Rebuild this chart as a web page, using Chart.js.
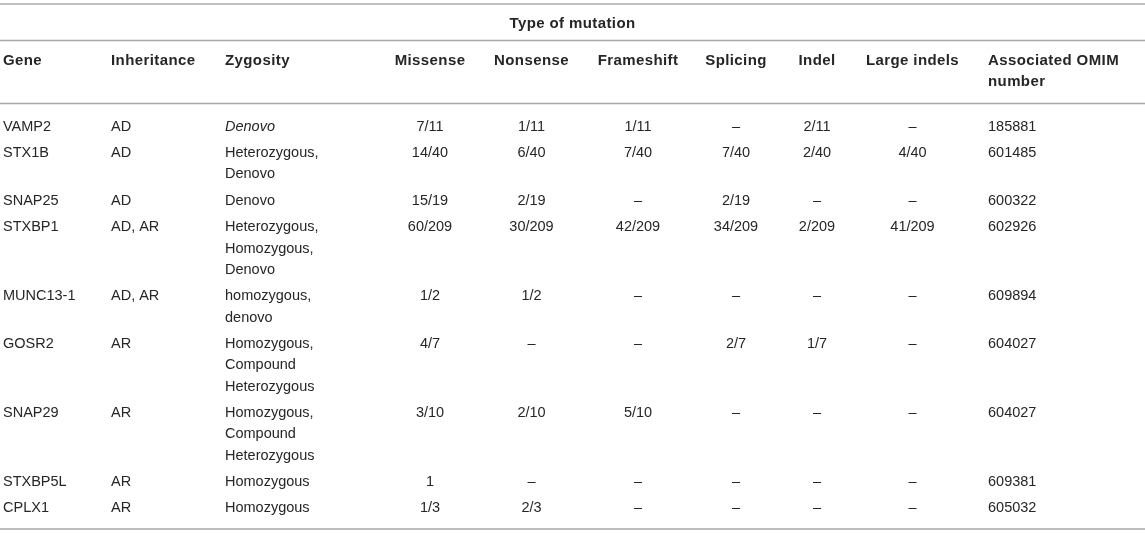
<!DOCTYPE html>
<html>
<head>
<meta charset="utf-8">
<script src="https://cdn.jsdelivr.net/npm/chart.js@4"></script>
<style>
html,body{margin:0;padding:0;background:#fff;}
#wrap{width:1145px;height:534px;}
</style>
</head>
<body>
<div id="wrap"><canvas id="c" width="1145" height="534"></canvas></div>
<script>
// ---- data ----
const spanHeader = "Type of mutation";
const columnHeaders = ["Gene","Inheritance","Zygosity","Missense","Nonsense","Frameshift","Splicing","Indel","Large indels","Associated OMIM\nnumber"];
const genes = ["VAMP2","STX1B","SNAP25","STXBP1","MUNC13-1","GOSR2","SNAP29","STXBP5L","CPLX1"];
const inheritance = ["AD","AD","AD","AD, AR","AD, AR","AR","AR","AR","AR"];
const zygosity = ["Denovo","Heterozygous,\nDenovo","Denovo","Heterozygous,\nHomozygous,\nDenovo","homozygous,\ndenovo","Homozygous,\nCompound\nHeterozygous","Homozygous,\nCompound\nHeterozygous","Homozygous","Homozygous"];
const zygosityItalic = [true,false,false,false,false,false,false,false,false];
const missense   = ["7/11","14/40","15/19","60/209","1/2","4/7","3/10","1","1/3"];
const nonsense   = ["1/11","6/40","2/19","30/209","1/2","–","2/10","–","2/3"];
const frameshift = ["1/11","7/40","–","42/209","–","–","5/10","–","–"];
const splicing   = ["–","7/40","2/19","34/209","–","2/7","–","–","–"];
const indel      = ["2/11","2/40","–","2/209","–","1/7","–","–","–"];
const largeIndels= ["–","4/40","–","41/209","–","–","–","–","–"];
const omim       = ["185881","601485","600322","602926","609894","604027","604027","609381","605032"];

// ---- layout (style constants, in scale units) ----
const W = 1145, H = 534;
const colX = [3,111,225,430,531.5,638,736,817,912.5,988];
const colAlign = ["left","left","left","center","center","center","center","center","center","left"];
const ruleY = [4,40.5,103.5,529];
const spanY = 24.3, headY = 60.5, lineH = 21.3, rowGap = 5.1, firstRowY = 126.7, headLineH = 21.4;
const FONT = '"Liberation Sans", Arial, Helvetica, sans-serif';
const TEXT = '#262626';

const columns = [genes, inheritance, zygosity, missense, nonsense, frameshift, splicing, indel, largeIndels, omim];

// row y positions from line counts
const rowY = [];
let yy = firstRowY;
for (let r = 0; r < genes.length; r++) {
  rowY.push(yy);
  let n = 1;
  columns.forEach(c => { n = Math.max(n, String(c[r]).split('\n').length); });
  yy += n * lineH + rowGap;
}

const ruleDatasets = ruleY.map(y => ({
  type: 'line',
  data: [{x: 0, y: y}, {x: W, y: y}],
  borderColor: '#a8a8a8',
  borderWidth: 1.5,
  pointRadius: 0,
  fill: false
}));

const tablePlugin = {
  id: 'tableText',
  afterDatasetsDraw(chart) {
    const ctx = chart.ctx, xs = chart.scales.x, ys = chart.scales.y;
    const draw = (txt, x, y, align, bold, italic, lh) => {
      ctx.save();
      ctx.fillStyle = TEXT;
      ctx.textAlign = align;
      ctx.textBaseline = 'middle';
      ctx.font = (italic ? 'italic ' : '') + (bold ? 'bold 15px ' : '14.5px ') + FONT;
      if ('letterSpacing' in ctx) ctx.letterSpacing = bold ? '0.4px' : '0px';
      String(txt).split('\n').forEach((line, i) => {
        ctx.fillText(line, xs.getPixelForValue(x), ys.getPixelForValue(y + i * lh));
      });
      ctx.restore();
    };
    draw(spanHeader, W / 2, spanY, 'center', true, false, headLineH);
    columnHeaders.forEach((h, i) => draw(h, colX[i], headY, colAlign[i], true, false, headLineH));
    columns.forEach((col, ci) => {
      col.forEach((v, r) => {
        const italic = ci === 2 && zygosityItalic[r];
        draw(v, colX[ci], rowY[r], colAlign[ci], false, italic, lineH);
      });
    });
  }
};

new Chart(document.getElementById('c'), {
  type: 'scatter',
  data: { datasets: ruleDatasets },
  options: {
    responsive: false,
    animation: false,
    devicePixelRatio: 1,
    layout: { padding: 0 },
    plugins: { legend: { display: false }, tooltip: { enabled: false } },
    scales: {
      x: { type: 'linear', min: 0, max: W, display: false },
      y: { type: 'linear', min: 0, max: H, reverse: true, display: false }
    }
  },
  plugins: [tablePlugin]
});
</script>
</body>
</html>
